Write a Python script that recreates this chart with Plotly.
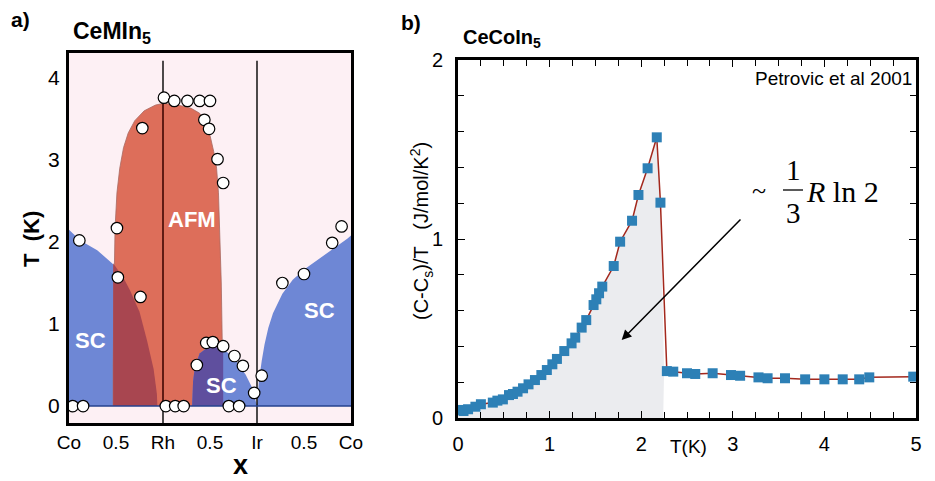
import plotly.graph_objects as go

# page body adds an 8px margin; lay out in reference-pixel coordinates and shift
OFF = 8
W, H = 935 - OFF, 481 - OFF
FONT = "Liberation Sans, Arial, sans-serif"
SERIF = "Liberation Serif, Times New Roman, serif"

# ---------------- Panel a: CeMIn5 phase diagram ----------------
a_tick_vals = [0, 0.5, 1, 1.5, 2, 2.5, 3]
a_tick_text = ["Co", "0.5", "Rh", "0.5", "Ir", "0.5", "Co"]
a_y_ticks = [0, 1, 2, 3, 4]

# left SC region (CeCo -> CeRh)
sc_left_x = [0, 0, 0.12, 0.30, 0.47, 0.58, 0.65, 0.75, 0.83, 0.90, 0.935, 0.94]
sc_left_T = [0, 2.15, 2.02, 1.90, 1.73, 1.56, 1.41, 1.15, 0.80, 0.45, 0.15, 0]

# AFM dome
afm_x = [0.47, 0.47, 0.48, 0.49, 0.51, 0.54, 0.58, 0.63, 0.70, 0.80, 0.92, 1.00,
         1.10, 1.20, 1.30, 1.39, 1.45, 1.50, 1.54, 1.57, 1.59, 1.60, 1.62, 1.63, 1.64]
afm_T = [0, 0.5, 1.5, 2.17, 2.6, 2.9, 3.15, 3.33, 3.48, 3.60, 3.67, 3.69,
         3.68, 3.66, 3.63, 3.57, 3.45, 3.30, 3.10, 2.90, 2.60, 2.30, 1.50, 0.80, 0]

# overlap of left SC with AFM
ovl_x = [0.47, 0.47, 0.58, 0.65, 0.75, 0.83, 0.90, 0.935, 0.94]
ovl_T = [0, 1.74, 1.56, 1.41, 1.15, 0.80, 0.45, 0.15, 0]

# middle SC dome (Rh -> Ir)
sc_mid_x = [1.31, 1.32, 1.34, 1.39, 1.46, 1.53, 1.60, 1.68, 1.76, 1.82, 1.88, 1.95, 1.98, 2.00]
sc_mid_T = [0, 0.30, 0.48, 0.64, 0.70, 0.72, 0.71, 0.66, 0.58, 0.48, 0.38, 0.22, 0.10, 0]

# part of middle SC coexisting with AFM
mix_x = [1.31, 1.32, 1.34, 1.39, 1.46, 1.53, 1.60, 1.64, 1.64]
mix_T = [0, 0.30, 0.48, 0.64, 0.70, 0.72, 0.71, 0.69, 0]

# right SC region (Ir -> Co)
sc_right_x = [2.00, 2.02, 2.05, 2.08, 2.12, 2.17, 2.27, 2.38, 2.52, 2.67, 2.82, 2.96, 3.00, 3.00]
sc_right_T = [0, 0.30, 0.55, 0.75, 0.95, 1.13, 1.37, 1.54, 1.68, 1.80, 1.93, 2.04, 2.08, 0]

# measured transition points
pts_x = [0.04, 0.15, 0.11, 0.52, 0.76, 0.51, 0.78, 1.01, 1.12, 1.26, 1.39, 1.50, 1.44,
         1.49, 1.58, 1.64, 1.03, 1.13, 1.22, 1.36, 1.46, 1.53, 1.64, 1.76, 1.85, 1.97,
         1.70, 1.81, 2.05, 2.27, 2.50, 2.80, 2.90]
pts_T = [0, 0, 2.02, 1.57, 1.33, 2.17, 3.39, 3.76, 3.72, 3.72, 3.72, 3.72, 3.49,
         3.38, 3.01, 2.72, 0, 0, 0, 0.50, 0.77, 0.78, 0.73, 0.61, 0.49, 0.16,
         0, 0, 0.37, 1.50, 1.61, 1.99, 2.19]

divider_x = [1, 2]
afm_top_T = 3.69

# ---------------- Panel b: CeCoIn5 specific heat ----------------
T_b = [0.02, 0.06, 0.11, 0.19, 0.25, 0.38, 0.43, 0.49, 0.557, 0.60, 0.65, 0.71, 0.77,
       0.84, 0.91, 0.97, 1.03, 1.08, 1.16, 1.24, 1.28, 1.35, 1.40, 1.48, 1.51, 1.54,
       1.575, 1.70, 1.77, 1.90, 1.97, 2.07, 2.17, 2.21, 2.28, 2.35, 2.50, 2.59, 2.78,
       2.98, 3.08, 3.28, 3.38, 3.57, 3.79, 4.00, 4.20, 4.38, 4.49, 4.97]
C_b = [0.045, 0.039, 0.049, 0.063, 0.077, 0.086, 0.097, 0.104, 0.128, 0.134, 0.147,
       0.166, 0.188, 0.212, 0.240, 0.268, 0.300, 0.330, 0.374, 0.417, 0.449, 0.505,
       0.547, 0.631, 0.663, 0.697, 0.734, 0.849, 0.985, 1.102, 1.246, 1.395, 1.568,
       1.203, 0.262, 0.259, 0.250, 0.246, 0.250, 0.240, 0.236, 0.227, 0.222, 0.222,
       0.216, 0.216, 0.216, 0.216, 0.227, 0.231]
Tc_edge = 2.24
b_x_ticks = [0, 1, 2, 3, 4, 5]
b_y_ticks = [0, 1, 2]

BLUE = "#6e87d5"
RED = "#dd6e5a"
DRED = "#a84650"
PURP = "#5f4f9e"
PINK = "#fdf0f4"

fig = go.Figure()

def fill(xs, ys, color, line_color=None, lw=0):
    fig.add_trace(go.Scatter(x=xs, y=ys, mode="lines", fill="toself", fillcolor=color,
                             line=dict(color=line_color or color, width=lw),
                             hoverinfo="skip", showlegend=False, xaxis="x", yaxis="y"))

fill(sc_left_x, sc_left_T, BLUE)
fill(afm_x, afm_T, RED, "#a86a62", 0.8)
fill(ovl_x, ovl_T, DRED)
fill(sc_mid_x, sc_mid_T, BLUE)
fill(mix_x, mix_T, PURP)
fill(sc_right_x, sc_right_T, BLUE)

# divider lines
for dx in divider_x:
    fig.add_trace(go.Scatter(x=[dx, dx], y=[-0.21, 4.21], mode="lines",
                             line=dict(color="black", width=1.4), hoverinfo="skip",
                             showlegend=False, xaxis="x", yaxis="y"))
fig.add_trace(go.Scatter(x=[divider_x[0], divider_x[0]], y=[0, afm_top_T], mode="lines",
                         line=dict(color="#6e1a12", width=1.4), hoverinfo="skip",
                         showlegend=False, xaxis="x", yaxis="y"))
# zero line
fig.add_trace(go.Scatter(x=[0, 3], y=[0, 0], mode="lines",
                         line=dict(color="#24428e", width=1.5), hoverinfo="skip",
                         showlegend=False, xaxis="x", yaxis="y"))
# points
fig.add_trace(go.Scatter(x=pts_x, y=pts_T, mode="markers",
                         marker=dict(size=11.5, color="white", line=dict(color="black", width=1.2)),
                         showlegend=False, xaxis="x", yaxis="y"))

# panel b shaded area
peak = C_b.index(max(C_b))
shade_x = [0] + T_b[:peak + 2] + [Tc_edge + 0.01, Tc_edge, 0]
shade_y = [0] + C_b[:peak + 2] + [C_b[peak + 2], 0, 0]
fig.add_trace(go.Scatter(x=shade_x, y=shade_y, mode="lines", fill="toself",
                         fillcolor="#ebecef", line=dict(width=0, color="#ebecef"),
                         hoverinfo="skip", showlegend=False, xaxis="x2", yaxis="y2"))
fig.add_trace(go.Scatter(x=T_b, y=C_b, mode="lines+markers",
                         line=dict(color="#a3281d", width=1.5),
                         marker=dict(symbol="square", size=10, color="#2d80b6"),
                         showlegend=False, xaxis="x2", yaxis="y2"))

def PX(px):
    return (px - OFF) / W

def PY(py):
    return 1 - (py - OFF) / H

ann = []
def text(px, py, s, size, bold=False, xanchor="center", angle=0, family=FONT, color="black"):
    ann.append(dict(x=PX(px), y=PY(py), xref="paper", yref="paper",
                    text=f"<b>{s}</b>" if bold else s,
                    showarrow=False, xanchor=xanchor, yanchor="middle", textangle=angle,
                    font=dict(size=size, family=family, color=color)))

text(9, 19, "a)", 21, True, "left")
text(71, 32, "CeMIn<sub>5</sub>", 23, True, "left")
text(399, 22, "b)", 21, True, "left")
text(461, 38, "CeCoIn<sub>5</sub>", 20, True, "left")
text(31, 239, "T  (K)", 22, True, angle=-90)
text(241, 465, "x", 27, True)
text(421, 231, "(C-C<sub>s</sub>)/T&nbsp;&nbsp;&nbsp;(J/mol/K<sup>2</sup>)", 20, angle=-90)
text(688, 446, "T(K)", 19)
text(914, 78, "Petrovic et al 2001", 19, xanchor="right")
text(759, 191, "~", 26, family=SERIF)
text(793, 170, "1", 29, family=SERIF)
text(793, 213, "3", 29, family=SERIF)
text(804, 192, "<i>R</i> ln 2", 30, xanchor="left", family=SERIF)

# region labels (data coords)
for lx, ly, s in [(1.31, 2.27, "AFM"), (0.23, 0.80, "SC"), (1.62, 0.25, "SC"), (2.66, 1.17, "SC")]:
    ann.append(dict(x=lx, y=ly, xref="x", yref="y", text=f"<b>{s}</b>", showarrow=False,
                    font=dict(size=22, family=FONT, color="white")))

# arrow
ann.append(dict(x=1.787, y=0.436, xref="x2", yref="y2", ax=3.10, ay=1.117,
                axref="x2", ayref="y2", text="", showarrow=True, arrowhead=2,
                arrowsize=1.3, arrowwidth=1.5, arrowcolor="black"))

shapes = [
    dict(type="rect", xref="x domain", yref="y domain", x0=0, x1=1, y0=0, y1=1,
         fillcolor=PINK, line=dict(width=0), layer="below"),
    dict(type="line", xref="paper", yref="paper", x0=PX(783), x1=PX(803),
         y0=PY(190), y1=PY(190), line=dict(color="black", width=1.3)),
]

fig.update_layout(
    width=W, height=H, margin=dict(l=0, r=0, t=0, b=0, autoexpand=False),
    paper_bgcolor="white", plot_bgcolor="rgba(0,0,0,0)",
    showlegend=False, annotations=ann, shapes=shapes,
    font=dict(family=FONT, color="black"),
    xaxis=dict(domain=[PX(69), PX(351)], range=[0, 3], tickvals=a_tick_vals,
               ticktext=a_tick_text, ticks="", showgrid=False, zeroline=False,
               showline=True, mirror=True, linecolor="black", linewidth=3, automargin=False,
               tickfont=dict(size=19), ticklabelstandoff=0),
    yaxis=dict(domain=[PY(423), PY(53)], range=[-0.207, 4.305], tickvals=a_y_ticks,
               ticks="", showgrid=False, zeroline=False, showline=True, mirror=True,
               linecolor="black", linewidth=3, tickfont=dict(size=21), automargin=False,
               ticklabelstandoff=2),
    xaxis2=dict(domain=[PX(458), PX(916)], range=[0, 5], tickvals=b_x_ticks, anchor="y2",
                ticks="inside", ticklen=7, tickwidth=1, tickcolor="black", automargin=False,
                minor=dict(dtick=0.25, ticks="inside", ticklen=6, tickwidth=1, tickcolor="black"),
                showgrid=False, zeroline=False, showline=True, mirror="allticks",
                linecolor="black", linewidth=3, tickfont=dict(size=20), ticklabelstandoff=6),
    yaxis2=dict(domain=[PY(418), PY(60)], range=[0, 2], tickvals=b_y_ticks, anchor="x2",
                ticks="inside", ticklen=7, tickwidth=1, tickcolor="black", automargin=False,
                minor=dict(dtick=0.2, ticks="inside", ticklen=6, tickwidth=1, tickcolor="black"),
                showgrid=False, zeroline=False, showline=True, mirror="allticks",
                linecolor="black", linewidth=3, tickfont=dict(size=20), ticklabelstandoff=8),
)

fig.write_html("out.html")
